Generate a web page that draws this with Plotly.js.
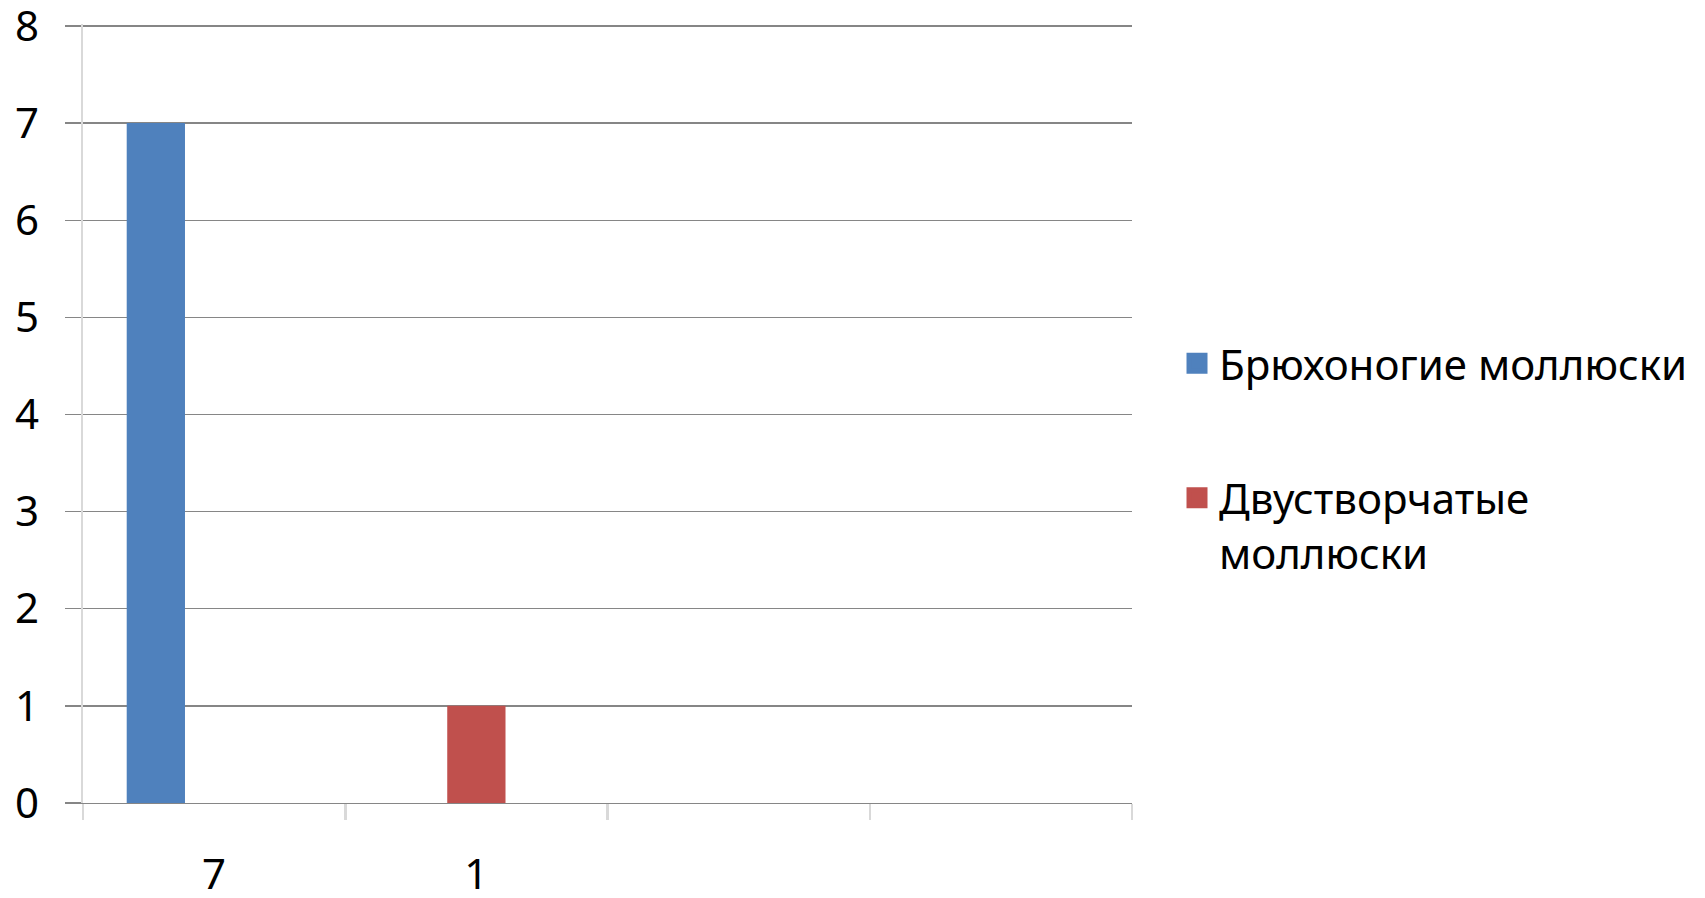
<!DOCTYPE html>
<html>
<head>
<meta charset="utf-8">
<script src="https://cdn.plot.ly/plotly-3.0.1.min.js"></script>
<style>
  html, body { margin: 0; padding: 0; background: #ffffff; }
  #chart { width: 1705px; height: 898px; }
</style>
</head>
<body>
<div id="chart"></div>
<script>
// Category slots along the horizontal axis (last two are unlabeled)
const categories = ['7', '1', ' ', '  '];
const categoryLabels = ['7', '1', '', ''];

// Series values per category
const gastropods = [7, null, null, null];
const bivalves = [null, 1, null, null];
const thirdSeries = [null, null, null, null];

const seriesNames = ['Брюхоногие моллюски', 'Двустворчатые<br>моллюски'];
const seriesColors = ['#4F81BD', '#C0504D', '#9BBB59'];

// Value axis ticks
const yTicks = [0, 1, 2, 3, 4, 5, 6, 7, 8];

const FONT = 'Noto Sans, DejaVu Sans, sans-serif';

// Bar series (legend entries are drawn by the key traces below, so the
// swatches can be larger than Plotly's fixed bar swatch)
const bars = [gastropods, bivalves, thirdSeries].map((vals, i) => ({
  type: 'bar', x: categories, y: vals,
  marker: { color: seriesColors[i] },
  showlegend: false, hoverinfo: 'skip'
}));

// Legend keys: square markers with no data points
const keys = seriesNames.map((name, i) => ({
  type: 'scatter', mode: 'markers', x: [null], y: [null], name: name,
  marker: { symbol: 'square', size: 16, color: seriesColors[i],
            line: { color: seriesColors[i], width: 5 } },
  legendgroup: 'g' + i, showlegend: true, hoverinfo: 'skip'
}));

const layout = {
  width: 1705,
  height: 898,
  margin: { l: 83, r: 573, t: 24, b: 95, pad: 0 },
  paper_bgcolor: '#ffffff',
  plot_bgcolor: '#ffffff',
  font: { family: FONT, size: 42, color: '#000000' },
  barmode: 'group',
  bargap: 1 / 3,
  bargroupgap: 0,
  showlegend: true,
  legend: {
    x: 1.041, xanchor: 'left',
    y: 0.608, yanchor: 'top',
    font: { family: FONT, size: 42, color: '#000000' },
    traceorder: 'grouped',
    tracegroupgap: 77,
    itemwidth: 34,
    valign: 'top',
    bgcolor: 'rgba(0,0,0,0)',
    borderwidth: 0
  },
  xaxis: {
    type: 'category',
    categoryorder: 'array',
    categoryarray: categories,
    tickmode: 'array',
    tickvals: categories,
    ticktext: categoryLabels,
    tickson: 'boundaries',
    ticks: 'outside',
    ticklen: 16,
    tickwidth: 2.5,
    tickcolor: '#d9d9d9',
    showgrid: false,
    zeroline: false,
    showline: true,
    linecolor: '#868686',
    linewidth: 1.3,
    ticklabelstandoff: 34,
    ticklabeloverflow: 'allow',
    tickfont: { family: FONT, size: 42, color: '#000000' },
    fixedrange: true
  },
  yaxis: {
    range: [0, 8.02],
    tickmode: 'array',
    tickvals: yTicks,
    ticktext: yTicks.map(String),
    ticks: 'outside',
    ticklen: 16,
    tickwidth: 1.3,
    tickcolor: '#868686',
    showgrid: true,
    gridcolor: '#868686',
    gridwidth: 1.3,
    zeroline: false,
    showline: true,
    linecolor: '#d9d9d9',
    linewidth: 2.5,
    ticklabelstandoff: 17,
    ticklabeloverflow: 'allow',
    tickfont: { family: FONT, size: 42, color: '#000000' },
    fixedrange: true
  }
};

Plotly.newPlot('chart', bars.concat(keys), layout, { staticPlot: true, displayModeBar: false });
</script>
</body>
</html>
